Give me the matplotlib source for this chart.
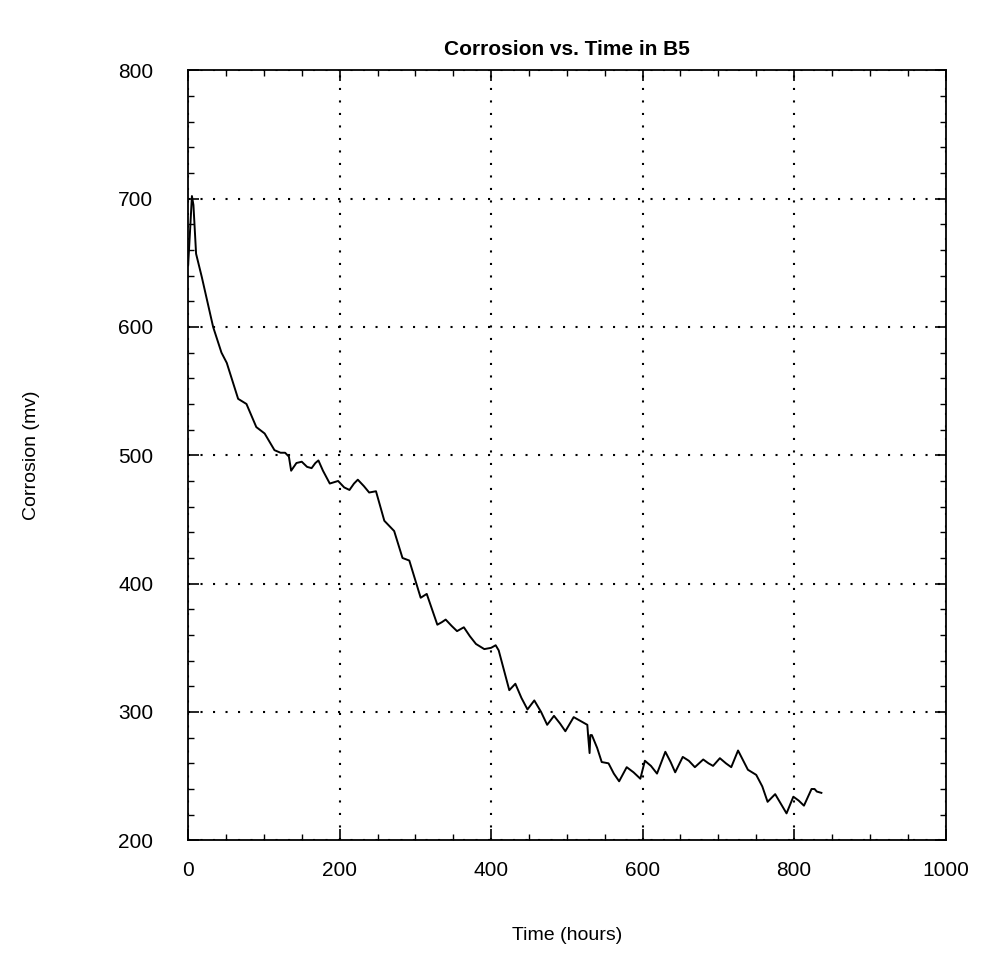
import numpy as np
import matplotlib
matplotlib.use("Agg")
import matplotlib.pyplot as plt
from matplotlib.ticker import MultipleLocator

plt.rcParams['font.family'] = ['Liberation Sans', 'DejaVu Sans']

# Time in hours, corrosion in mv
hours = [0, 3, 5, 7, 10.5, 18, 33, 44, 51, 66, 77, 90, 101, 114, 122, 128,
         133, 136, 143, 150, 157, 163, 168, 172, 178, 187, 198, 206, 213,
         219, 224, 232, 239, 248, 259, 272, 283, 292, 307, 315, 322, 329,
         335, 340, 348, 355, 364, 372, 380, 391, 400, 406, 410, 424, 432,
         440, 448, 457, 466, 474, 483, 491, 498, 509, 527, 528, 530, 531,
         533, 540, 546, 555, 562, 569, 579, 588, 597, 603, 611, 619, 630,
         637, 643, 653, 661, 669, 680, 687, 693, 702, 710, 717, 726, 739,
         750, 758, 765, 775, 782, 790, 799, 806, 813, 823, 827, 830, 836]
corrosion = [648, 680, 702, 695, 657, 639, 600, 580, 572, 544, 540, 522, 517,
             504, 502, 502, 499, 488, 494, 495, 491, 490, 494, 496, 488, 478,
             480, 475, 473, 478, 481, 476, 471, 472, 449, 441, 420, 418, 389,
             392, 380, 368, 370, 372, 367, 363, 366, 359, 353, 349, 350, 352,
             348, 317, 322, 311, 302, 309, 300, 290, 297, 291, 285, 296, 290,
             282, 268, 282, 282, 272, 261, 260, 252, 246, 257, 253, 248, 262,
             258, 252, 269, 261, 253, 265, 262, 257, 263, 260, 258, 264, 260,
             257, 270, 255, 251, 242, 230, 236, 229, 221, 234, 231, 227, 240,
             240, 238, 237]

fig = plt.figure(figsize=(9.85, 9.76), dpi=100)
ax = fig.add_axes([0.191, 0.139, 0.769, 0.789])

ax.plot(hours, corrosion, color='black', lw=1.4, solid_joinstyle='round')

ax.set_xlim(0, 1000)
ax.set_ylim(200, 800)
ax.xaxis.set_major_locator(MultipleLocator(200))
ax.xaxis.set_minor_locator(MultipleLocator(50))
ax.yaxis.set_major_locator(MultipleLocator(100))
ax.yaxis.set_minor_locator(MultipleLocator(20))
ax.tick_params(which='both', direction='in', top=True, right=True, labelsize=15)
ax.tick_params(which='major', length=8, width=1.2)
ax.tick_params(which='minor', length=4, width=1)
ax.tick_params(axis='y', pad=25)
ax.tick_params(axis='x', pad=15)
for s in ax.spines.values():
    s.set_linewidth(1.3)

ax.grid(True, which='major', color='black', linestyle=(0, (1, 5)), lw=1.5)

ax.set_title('Corrosion vs. Time in B5', fontsize=15, fontweight='bold', pad=11)
ax.set_xlabel('Time (hours)', fontsize=14)
ax.set_ylabel('Corrosion (mv)', fontsize=14)
ax.xaxis.set_label_coords(0.5, -0.113)
ax.yaxis.set_label_coords(-0.195, 0.5)

fig.savefig('out.png', dpi=100)
